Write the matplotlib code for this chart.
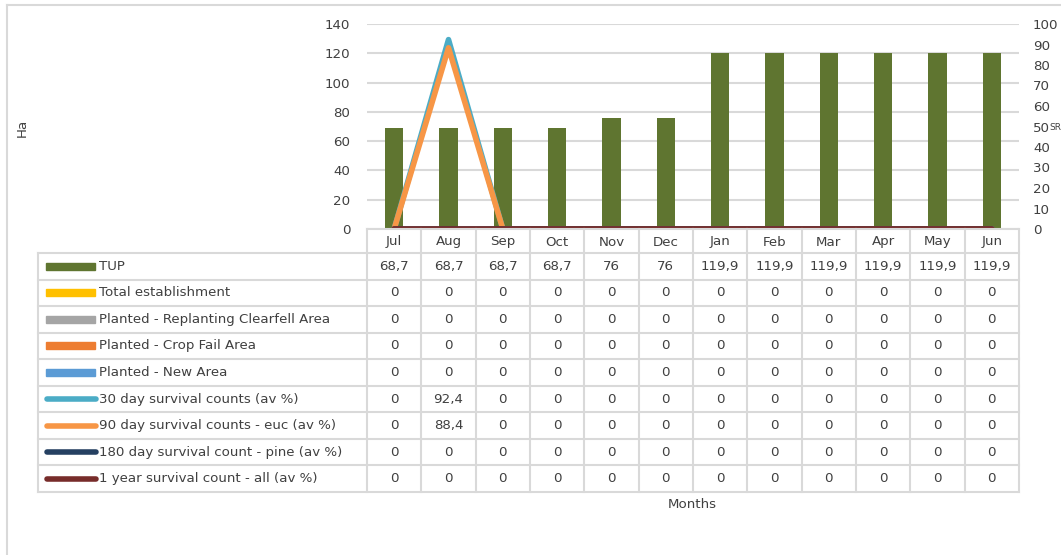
import matplotlib
matplotlib.use("Agg")
import matplotlib.pyplot as plt
from matplotlib.patches import Rectangle
from matplotlib.lines import Line2D

months = ['Jul', 'Aug', 'Sep', 'Oct', 'Nov', 'Dec', 'Jan', 'Feb', 'Mar', 'Apr', 'May', 'Jun']
tup = [68.7, 68.7, 68.7, 68.7, 76, 76, 119.9, 119.9, 119.9, 119.9, 119.9, 119.9]
total_establishment = [0, 0, 0, 0, 0, 0, 0, 0, 0, 0, 0, 0]
planted_replanting = [0, 0, 0, 0, 0, 0, 0, 0, 0, 0, 0, 0]
planted_crop_fail = [0, 0, 0, 0, 0, 0, 0, 0, 0, 0, 0, 0]
planted_new = [0, 0, 0, 0, 0, 0, 0, 0, 0, 0, 0, 0]
surv30 = [0, 92.4, 0, 0, 0, 0, 0, 0, 0, 0, 0, 0]
surv90_euc = [0, 88.4, 0, 0, 0, 0, 0, 0, 0, 0, 0, 0]
surv180_pine = [0, 0, 0, 0, 0, 0, 0, 0, 0, 0, 0, 0]
surv1y_all = [0, 0, 0, 0, 0, 0, 0, 0, 0, 0, 0, 0]

bar_series = [
    ('TUP', tup, '#5F7530'),
    ('Total establishment', total_establishment, '#FFC000'),
    ('Planted - Replanting Clearfell Area', planted_replanting, '#A5A5A5'),
    ('Planted - Crop Fail Area', planted_crop_fail, '#ED7D31'),
    ('Planted - New Area', planted_new, '#5B9BD5'),
]
line_series = [
    ('30 day survival counts (av %)', surv30, '#4BACC6'),
    ('90 day survival counts - euc (av %)', surv90_euc, '#F79646'),
    ('180 day survival count - pine (av %)', surv180_pine, '#254061'),
    ('1 year survival count - all (av %)', surv1y_all, '#772C2A'),
]

FONT = ['DejaVu Sans']
plt.rcParams['font.family'] = FONT
FS = 9.6
W, H = 1061, 555
fig = plt.figure(figsize=(W / 100, H / 100), dpi=100)
TXT = '#404040'
GRID = '#D9D9D9'

def fx(px):
    return px / W

def fy(py):
    return 1 - py / H

# frame of chart area
fig.add_artist(Line2D([fx(7), fx(7)], [fy(5), 0], color=GRID, lw=1.5))
fig.add_artist(Line2D([fx(7), 1], [fy(5), fy(5)], color=GRID, lw=1.5))

# main plot axes
x0, x1, ytop, ybot = 367, 1019, 24, 229
ax = fig.add_axes([fx(x0), fy(ybot), fx(x1 - x0), (ybot - ytop) / H])
n = len(months)
xs = list(range(n))
bottom = [0.0] * n
for name, vals, col in bar_series:
    ax.bar(xs, vals, width=0.34, bottom=bottom, color=col, zorder=2)
    bottom = [b + v for b, v in zip(bottom, vals)]
ax.set_xlim(-0.5, n - 0.5)
ax.set_ylim(0, 140)
ax.set_yticks(range(0, 141, 20))
ax.yaxis.grid(True, color=GRID, lw=1.5, zorder=0)
ax.set_axisbelow(True)
ax.set_xticks([])
for s in ax.spines.values():
    s.set_visible(False)
ax.tick_params(axis='y', length=0, pad=12, labelsize=FS, labelcolor=TXT)
ax.patch.set_alpha(0)

ax2 = ax.twinx()
for name, vals, col in line_series:
    ax2.plot(xs, vals, color=col, lw=4, solid_capstyle='round', zorder=3)
ax2.set_ylim(0, 100)
ax2.set_yticks(range(0, 101, 10))
ax2.set_xlim(-0.5, n - 0.5)
for s in ax2.spines.values():
    s.set_visible(False)
ax2.tick_params(axis='y', length=0, pad=10, labelsize=FS, labelcolor=TXT)

fig.text(fx(22), fy(128), 'Ha', rotation=90, ha='center', va='center', fontsize=FS, color=TXT)
fig.text(fx(1055), fy(127), 'SR', ha='center', va='center', fontsize=6.5, color=TXT)

# data table
tl, tr = 38, 1019
hdr_top, row_top = 229, 253
row_h = 26.55
rows = bar_series + line_series
tb = row_top + row_h * len(rows)
tax = fig.add_axes([0, 0, 1, 1])
tax.set_xlim(0, W)
tax.set_ylim(H, 0)
tax.axis('off')
cw = (tr - x0) / n
lk = dict(color=GRID, lw=1.5)
# header
tax.plot([x0, tr], [hdr_top, hdr_top], **lk)
for i in range(n + 1):
    tax.plot([x0 + i * cw] * 2, [hdr_top, tb], **lk)
for i, m in enumerate(months):
    tax.text(x0 + (i + 0.5) * cw, (hdr_top + row_top) / 2 + 1, m, ha='center', va='center',
             fontsize=FS, color=TXT)
for r in range(len(rows) + 1):
    tax.plot([tl, tr], [row_top + r * row_h] * 2, **lk)
tax.plot([tl, tl], [row_top, tb], **lk)

def fmt(v):
    return ('%g' % v).replace('.', ',')

for r, (name, vals, col) in enumerate(rows):
    yc = row_top + (r + 0.5) * row_h
    if r < len(bar_series):
        tax.add_patch(Rectangle((46, yc - 3.5), 49, 7, color=col))
    else:
        tax.plot([47, 96], [yc, yc], color=col, lw=4, solid_capstyle='round')
    tax.text(99, yc, name, ha='left', va='center', fontsize=FS, color=TXT)
    for i, v in enumerate(vals):
        tax.text(x0 + (i + 0.5) * cw, yc, fmt(v), ha='center', va='center', fontsize=FS, color=TXT)

fig.text(fx(692), fy(505), 'Months', ha='center', va='center', fontsize=FS, color=TXT)

fig.savefig('out.png', dpi=100, facecolor='white')
